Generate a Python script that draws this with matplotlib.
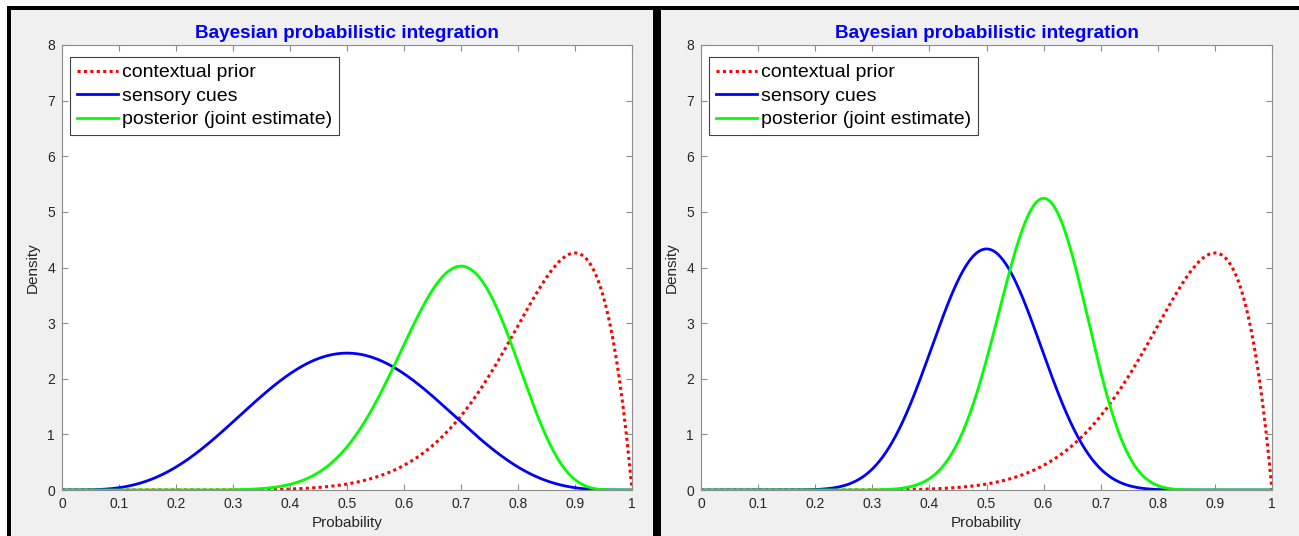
import math

import matplotlib
matplotlib.use('Agg')
import matplotlib.pyplot as plt
import numpy as np
from matplotlib.lines import Line2D
from matplotlib.patches import Rectangle

plt.rcParams['font.family'] = ['Liberation Sans', 'DejaVu Sans']

prior_ab = (10, 2)          # mode 0.9, peak ~4.27 (same in both panels)
sensory_ab = [(5, 5), (15, 15)]       # left, right
posterior_ab = [(15, 7), (25, 17)]    # left, right

labels = ['contextual prior', 'sensory cues', 'posterior (joint estimate)']
xticks = [0, 0.1, 0.2, 0.3, 0.4, 0.5, 0.6, 0.7, 0.8, 0.9, 1]
xticklabels = ['0', '0.1', '0.2', '0.3', '0.4', '0.5', '0.6', '0.7', '0.8', '0.9', '1']
yticks = [0, 1, 2, 3, 4, 5, 6, 7, 8]

x = np.linspace(0, 1, 1001)


def beta_pdf(x, a, b):
    lb = math.lgamma(a) + math.lgamma(b) - math.lgamma(a + b)
    return x ** (a - 1) * (1 - x) ** (b - 1) / math.exp(lb)


W, H = 1299, 536
fig = plt.figure(figsize=(W / 100, H / 100), dpi=100, facecolor='white')


def px_rect(x0, y0, x1, y1, **kw):
    # pixel box (top-left origin) -> figure rectangle
    fig.patches.append(Rectangle((x0 / W, 1 - y1 / H), (x1 - x0) / W, (y1 - y0) / H,
                                 transform=fig.transFigure, **kw))


# grey panels and the black frame around them (behind the axes)
px_rect(10, 9, 655, 536, facecolor='#f0f0f0', edgecolor='none', zorder=-3)
px_rect(659, 9, 1299, 536, facecolor='#f0f0f0', edgecolor='none', zorder=-3)
px_rect(7, 6, 1299, 10, facecolor='black', edgecolor='none', zorder=-2)
px_rect(7, 6, 11, 536, facecolor='black', edgecolor='none', zorder=-2)
px_rect(653, 6, 661, 536, facecolor='black', edgecolor='none', zorder=-2)

axes_px = [(62, 632), (701, 1272)]
ax_top, ax_bot = 45, 490

for i, (xl, xr) in enumerate(axes_px):
    ax = fig.add_axes([xl / W, 1 - ax_bot / H, (xr - xl) / W, (ax_bot - ax_top) / H])
    ax.set_facecolor('white')

    ax.plot(x, beta_pdf(x, *prior_ab), color='red', lw=2.2, linestyle=(0, (1, 1.1)),
            label=labels[0])
    ax.plot(x, beta_pdf(x, *sensory_ab[i]), color='blue', lw=2.0, label=labels[1])
    ax.plot(x, beta_pdf(x, *posterior_ab[i]), color='#00ff00', lw=2.0, label=labels[2])

    ax.set_xlim(0, 1)
    ax.set_ylim(0, 8)
    ax.set_xticks(xticks)
    ax.set_xticklabels(xticklabels)
    ax.set_yticks(yticks)
    ax.tick_params(direction='in', top=True, right=True, length=4, width=0.8,
                   colors='#8c8c8c', labelcolor='#262626', labelsize=10, pad=5)
    for s in ax.spines.values():
        s.set_color('#8c8c8c')
        s.set_linewidth(0.8)

    ax.set_title('Bayesian probabilistic integration', color='blue', fontsize=13.6,
                 fontweight='bold', pad=5)
    ax.set_xlabel('Probability', fontsize=11, color='#262626', labelpad=4)
    ax.set_ylabel('Density', fontsize=11, color='#262626', labelpad=5)

    handles = [Line2D([], [], color='red', lw=2.2, linestyle=(0, (1, 1.1))),
               Line2D([], [], color='blue', lw=2.0),
               Line2D([], [], color='#00ff00', lw=2.0)]
    leg = ax.legend(handles, labels, loc='upper left', bbox_to_anchor=(0.014, 0.973),
                    borderaxespad=0, fontsize=14, frameon=True, fancybox=False,
                    edgecolor='#404040', framealpha=1, handlelength=2.1,
                    handletextpad=0.25, labelspacing=0.3, borderpad=0.35)
    leg.get_frame().set_linewidth(0.8)

fig.savefig('out.png', dpi=100, facecolor=fig.get_facecolor())
